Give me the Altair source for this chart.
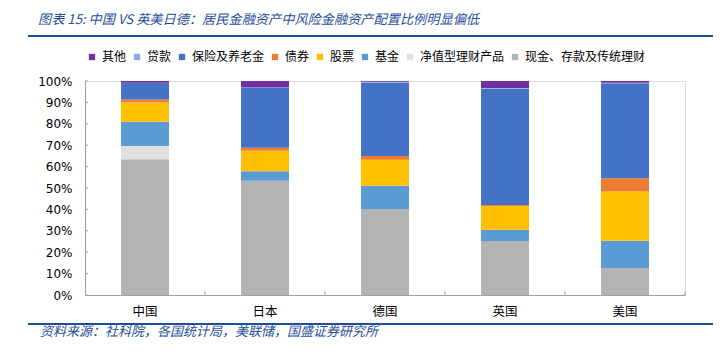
import altair as alt
import pandas as pd

countries = ["中国", "日本", "德国", "英国", "美国"]
# legend order (top of stack first)
categories = ["其他", "贷款", "保险及养老金", "债券", "股票", "基金", "净值型理财产品", "现金、存款及传统理财"]
colors = ["#7030A0", "#8FAADC", "#4472C4", "#ED7D31", "#FFC000", "#5B9BD5", "#E0E0E0", "#B4B4B4"]

# values in % per country, in stacking order bottom -> top
cash = [63.4, 53.4, 40.2, 25.2, 12.6]
wealth = [6.2, 0.0, 0.0, 0.0, 0.0]
funds = [11.4, 4.4, 10.9, 5.3, 12.8]
stocks = [8.9, 9.6, 12.1, 11.1, 23.0]
bonds = [1.5, 1.4, 1.8, 0.5, 6.1]
insurance = [7.8, 27.9, 34.2, 54.3, 44.4]
loans = [0.0, 0.3, 0.5, 0.3, 0.3]
other = [0.8, 3.0, 0.3, 3.3, 0.8]

yticks = [0, 10, 20, 30, 40, 50, 60, 70, 80, 90, 100]

title_text = "图表 15:  中国 VS 英美日德：居民金融资产中风险金融资产配置比例明显偏低"
source_text = "资料来源：社科院，各国统计局，美联储，国盛证券研究所"

series = [
    ("现金、存款及传统理财", cash),
    ("净值型理财产品", wealth),
    ("基金", funds),
    ("股票", stocks),
    ("债券", bonds),
    ("保险及养老金", insurance),
    ("贷款", loans),
    ("其他", other),
]
rows = []
for order, (name, vals) in enumerate(series):
    for c, v in zip(countries, vals):
        rows.append({"country": c, "category": name, "value": v, "ord": order})
df = pd.DataFrame(rows)

CJK = "Noto Sans CJK SC"
W, H = 600, 214

x_axis = alt.Axis(title=None, labelAngle=0, ticks=False, tickSize=0,
                  labelPadding=10, labelFont=CJK, labelFontSize=12.5,
                  labelColor="#000000", domainColor="#A0A0A0", grid=False)
y_axis = alt.Axis(title=None, values=yticks, tickCount=11,
                  labelExpr="datum.value + '%'",
                  ticks=False, tickSize=0, labelPadding=13,
                  labelOverlap=False, labelFlush=False,
                  labelFont="DejaVu Sans", labelFontSize=12,
                  labelColor="#000000", domainColor="#A0A0A0", grid=False)
x_scale = alt.Scale(paddingInner=0.6, paddingOuter=0.3)
y_scale = alt.Scale(domain=[0, 100], nice=False)

bars = alt.Chart(df).mark_bar().encode(
    x=alt.X("country:N", sort=countries, scale=x_scale, axis=x_axis),
    y=alt.Y("value:Q", stack="zero", scale=y_scale, axis=y_axis),
    color=alt.Color("category:N",
                    scale=alt.Scale(domain=categories, range=colors),
                    legend=alt.Legend(title=None, orient="none", direction="horizontal",
                                      columns=8, legendX=1, legendY=-30,
                                      symbolType="square", symbolSize=40,
                                      symbolStrokeWidth=0,
                                      labelFont=CJK, labelFontSize=12,
                                      labelColor="#000000", labelOffset=4,
                                      columnPadding=4)),
    order=alt.Order("ord:Q", sort="ascending"),
)

xticks = alt.Chart(pd.DataFrame({"country": countries})).mark_rule(
    color="#A0A0A0", xOffset=60
).encode(
    x=alt.X("country:N", sort=countries, scale=x_scale, axis=x_axis),
    y=alt.value(H - 4), y2=alt.value(H),
)

yt = alt.Chart(pd.DataFrame({"v": yticks})).mark_rule(color="#A0A0A0").encode(
    y=alt.Y("v:Q", scale=y_scale, axis=y_axis), x=alt.value(0), x2=alt.value(3),
)

title = alt.Chart(pd.DataFrame({"t": [title_text]})).mark_text(
    align="left", baseline="middle", font=CJK, fontSize=13.2, fontStyle="italic",
    color="#1F4E9A"
).encode(text="t:N", x=alt.value(-47), y=alt.value(-61))

top_line = alt.Chart(pd.DataFrame({"a": [0]})).mark_rule(
    color="#1F4E99", strokeWidth=2
).encode(x=alt.value(-57), x2=alt.value(628), y=alt.value(-45))

bottom_line = alt.Chart(pd.DataFrame({"a": [0]})).mark_rule(
    color="#1F4E99", strokeWidth=2
).encode(x=alt.value(-57), x2=alt.value(628), y=alt.value(243))

source = alt.Chart(pd.DataFrame({"t": [source_text]})).mark_text(
    align="left", baseline="middle", font=CJK, fontSize=13, fontStyle="italic",
    color="#1F4E9A"
).encode(text="t:N", x=alt.value(-45), y=alt.value(251))

chart = alt.layer(bars, xticks, yt, title, top_line, bottom_line, source).properties(
    width=W, height=H,
    autosize=alt.AutoSizeParams(type="none"),
    padding={"left": 85, "top": 81, "right": 38, "bottom": 57},
).configure_view(stroke=None).configure(background="white")

chart.save("out.html", embed_options={"renderer": "svg", "actions": False})
